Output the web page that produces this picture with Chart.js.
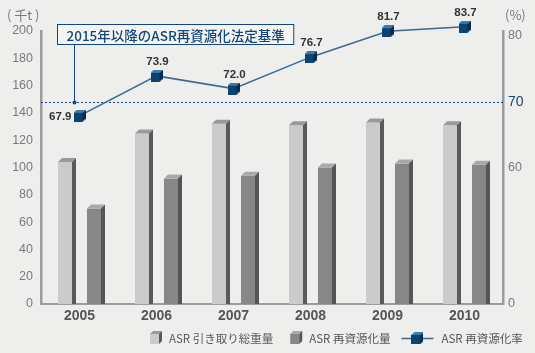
<!DOCTYPE html>
<html>
<head>
<meta charset="utf-8">
<script src="https://cdn.jsdelivr.net/npm/chart.js@4/dist/chart.umd.min.js"></script>
<style>
  html, body { margin: 0; padding: 0; background: #eeeeec; }
  #wrap { width: 535px; height: 353px; }
</style>
</head>
<body>
<div id="wrap"><canvas id="c" width="535" height="353"></canvas></div>
<script>
// ASR 引き取り量 / 再資源化率 chart

const years = ['2005', '2006', '2007', '2008', '2009', '2010'];
const totalCollected = [104, 125, 132, 131, 133, 131];   // 千t
const recycledAmount = [70, 92, 94, 100, 103, 102];      // 千t
const recycleRate = [67.9, 73.9, 72.0, 76.7, 81.7, 83.7]; // %
const leftTicks = [0, 20, 40, 60, 80, 100, 120, 140, 160, 180, 200];
const rightTicks = [0, 60, 70, 80];
const legalTarget = 70;
const calloutText = '2015年以降のASR再資源化法定基準';
const seriesNames = ['ASR 引き取り総重量', 'ASR 再資源化量', 'ASR 再資源化率'];

const NAVY = '#12477a';
const LINE = '#3a6a93';
const GREY_TXT = '#7a7a7a';
const JP = '"Noto Sans CJK JP", "Liberation Sans", sans-serif';
const NUM = '"Liberation Sans", Arial, sans-serif';

// broken right axis: 0-60 squeezed, 60-80 stretched
const BREAKS = [[0, 0], [60, 0.498], [70, 0.740], [80, 0.985], [85, 1.026]];
function toDecimal(v) {
  for (let i = 1; i < BREAKS.length; i++) {
    const [v0, d0] = BREAKS[i - 1], [v1, d1] = BREAKS[i];
    if (v <= v1 || i === BREAKS.length - 1) return d0 + (v - v0) / (v1 - v0) * (d1 - d0);
  }
}
function fromDecimal(d) {
  for (let i = 1; i < BREAKS.length; i++) {
    const [v0, d0] = BREAKS[i - 1], [v1, d1] = BREAKS[i];
    if (d <= d1 || i === BREAKS.length - 1) return v0 + (d - d0) / (d1 - d0) * (v1 - v0);
  }
}
class BrokenScale extends Chart.LinearScale {
  getPixelForValue(v) { return v == null ? NaN : this.getPixelForDecimal(toDecimal(v)); }
  getValueForPixel(p) { return fromDecimal(this.getDecimalForPixel(p)); }
}
BrokenScale.id = 'broken';
BrokenScale.defaults = Chart.LinearScale.defaults;
Chart.register(BrokenScale);

function drawCube(ctx, x, y, w, h, d, front, top, side) {
  ctx.fillStyle = front;
  ctx.fillRect(x, y, w, h);
  ctx.fillStyle = top;
  ctx.beginPath();
  ctx.moveTo(x, y); ctx.lineTo(x + d, y - d); ctx.lineTo(x + w + d, y - d); ctx.lineTo(x + w, y);
  ctx.closePath(); ctx.fill();
  ctx.fillStyle = side;
  ctx.beginPath();
  ctx.moveTo(x + w, y); ctx.lineTo(x + w + d, y - d); ctx.lineTo(x + w + d, y + h - d); ctx.lineTo(x + w, y + h);
  ctx.closePath(); ctx.fill();
}

const cubeMarker = document.createElement('canvas');
cubeMarker.width = 12; cubeMarker.height = 12;
drawCube(cubeMarker.getContext('2d'), 0, 3, 9, 9, 3, '#0b4470', '#3d7aab', '#062c4d');

const BAR_STYLE = [
  { front: '#cbcbcb', top: '#9a9a9a', side: '#595b5b' },
  { front: '#878787', top: '#a9a9a9', side: '#545656' },
];

const decorPlugin = {
  id: 'decor',
  beforeDatasetsDraw(chart) {
    const { ctx, chartArea: a } = chart;
    const y70 = chart.scales.y1.getPixelForValue(legalTarget);
    ctx.save();
    ctx.strokeStyle = NAVY;
    ctx.lineWidth = 1;
    ctx.setLineDash([2, 2]);
    ctx.beginPath(); ctx.moveTo(a.left, y70 + 0.5); ctx.lineTo(a.right, y70 + 0.5); ctx.stroke();
    ctx.setLineDash([]);
    // callout box
    ctx.font = '500 13.5px ' + JP;
    const tw = ctx.measureText(calloutText).width;
    const bx = 57.5, by = 24.5, bh = 20;
    ctx.fillStyle = '#f4f4f2';
    ctx.fillRect(bx, by, tw + 18, bh);
    ctx.strokeRect(bx, by, tw + 18, bh);
    ctx.fillStyle = NAVY;
    ctx.textBaseline = 'middle';
    ctx.fillText(calloutText, bx + 9, by + bh / 2 + 1);
    ctx.beginPath(); ctx.moveTo(74.5, by + bh); ctx.lineTo(74.5, y70); ctx.stroke();
    ctx.beginPath(); ctx.arc(74.5, y70 + 0.5, 2, 0, Math.PI * 2); ctx.fill();
    // unit labels
    ctx.fillStyle = GREY_TXT;
    ctx.font = '13px ' + JP;
    ctx.textAlign = 'left';
    ctx.fillText('( 千t )', 7, 15);
    ctx.fillText('(%)', 505, 15);
    ctx.restore();
  },
  afterDatasetsDraw(chart) {
    const { ctx } = chart;
    ctx.save();
    // 3D faces on bars
    [0, 1].forEach(di => {
      const s = BAR_STYLE[di];
      chart.getDatasetMeta(di).data.forEach(bar => {
        const x = bar.x - bar.width / 2, w = bar.width, d = 4;
        ctx.fillStyle = s.top;
        ctx.beginPath();
        ctx.moveTo(x, bar.y); ctx.lineTo(x + d, bar.y - d); ctx.lineTo(x + w + d, bar.y - d); ctx.lineTo(x + w, bar.y);
        ctx.closePath(); ctx.fill();
        ctx.fillStyle = s.side;
        ctx.beginPath();
        ctx.moveTo(x + w, bar.y); ctx.lineTo(x + w + d, bar.y - d); ctx.lineTo(x + w + d, bar.base); ctx.lineTo(x + w, bar.base);
        ctx.closePath(); ctx.fill();
      });
    });
    // rate labels
    ctx.font = 'bold 11.5px ' + NUM;
    ctx.fillStyle = '#333';
    ctx.textBaseline = 'middle';
    chart.getDatasetMeta(2).data.forEach((pt, i) => {
      const txt = recycleRate[i].toFixed(1);
      if (i === 0) {
        ctx.textAlign = 'right';
        ctx.fillText(txt, pt.x - 8, pt.y + 1);
      } else {
        ctx.textAlign = 'center';
        ctx.fillText(txt, pt.x + 1, pt.y - 14);
      }
    });
    ctx.restore();
  },
  afterDraw(chart) {
    const { ctx } = chart;
    const cy = 338;
    ctx.save();
    ctx.font = '11.5px ' + JP;
    ctx.fillStyle = '#6a6a6a';
    ctx.textBaseline = 'middle';
    let x = 150;
    [0, 1].forEach(i => {
      const s = BAR_STYLE[i];
      drawCube(ctx, x, cy - 4, 9, 10, 3, s.front, s.top, s.side);
      x += 19;
      ctx.fillText(seriesNames[i], x, cy + 1);
      x += ctx.measureText(seriesNames[i]).width + (i === 0 ? 17 : 11);
    });
    ctx.strokeStyle = LINE;
    ctx.lineWidth = 1.5;
    ctx.beginPath(); ctx.moveTo(x, cy + 0.5); ctx.lineTo(x + 32, cy + 0.5); ctx.stroke();
    ctx.drawImage(cubeMarker, x + 10, cy - 6);
    ctx.fillText(seriesNames[2], x + 40, cy + 1);
    ctx.restore();
  },
};

new Chart(document.getElementById('c'), {
  data: {
    labels: years,
    datasets: [
      {
        type: 'bar', label: seriesNames[0], data: totalCollected, yAxisID: 'y',
        backgroundColor: BAR_STYLE[0].front, categoryPercentage: 0.753, barPercentage: 0.483, order: 2,
      },
      {
        type: 'bar', label: seriesNames[1], data: recycledAmount, yAxisID: 'y',
        backgroundColor: BAR_STYLE[1].front, categoryPercentage: 0.753, barPercentage: 0.483, order: 2,
      },
      {
        type: 'line', label: seriesNames[2], data: recycleRate, yAxisID: 'y1',
        borderColor: LINE, borderWidth: 1.5, pointStyle: cubeMarker, pointRadius: 6,
        clip: false, order: 1,
      },
    ],
  },
  options: {
    responsive: false,
    animation: false,
    devicePixelRatio: 1,
    layout: { padding: { top: 31, left: 0, right: 0, bottom: 0 } },
    plugins: { legend: { display: false }, tooltip: { enabled: false } },
    scales: {
      x: {
        grid: { display: false, drawTicks: false },
        border: { display: true, color: '#9c9c9c', width: 2 },
        ticks: { color: '#555', font: { family: NUM, size: 14, weight: 'bold' }, padding: 4 },
        afterFit: s => { s.height = 49; },
      },
      y: {
        position: 'left', min: 0, max: 200,
        grid: { display: false, drawTicks: false },
        border: { display: true, color: '#9c9c9c', width: 2.5 },
        afterBuildTicks: s => { s.ticks = leftTicks.map(v => ({ value: v })); },
        ticks: { color: GREY_TXT, font: { family: NUM, size: 12.5 }, padding: 8, autoSkip: false },
        afterFit: s => { s.width = 41; },
      },
      y1: {
        type: 'broken', position: 'right', min: 0, max: 80,
        grid: { display: false, drawTicks: false },
        border: { display: true, color: '#9c9c9c', width: 2.5 },
        afterBuildTicks: s => { s.ticks = rightTicks.map(v => ({ value: v })); },
        ticks: {
          padding: 5, autoSkip: false,
          color: c => (c.tick && c.tick.value === legalTarget ? NAVY : GREY_TXT),
          font: c => ({ family: NUM, size: c.tick && c.tick.value === legalTarget ? 14 : 12.5 }),
        },
        afterFit: s => { s.width = 32; },
      },
    },
  },
  plugins: [decorPlugin],
});
</script>
</body>
</html>
